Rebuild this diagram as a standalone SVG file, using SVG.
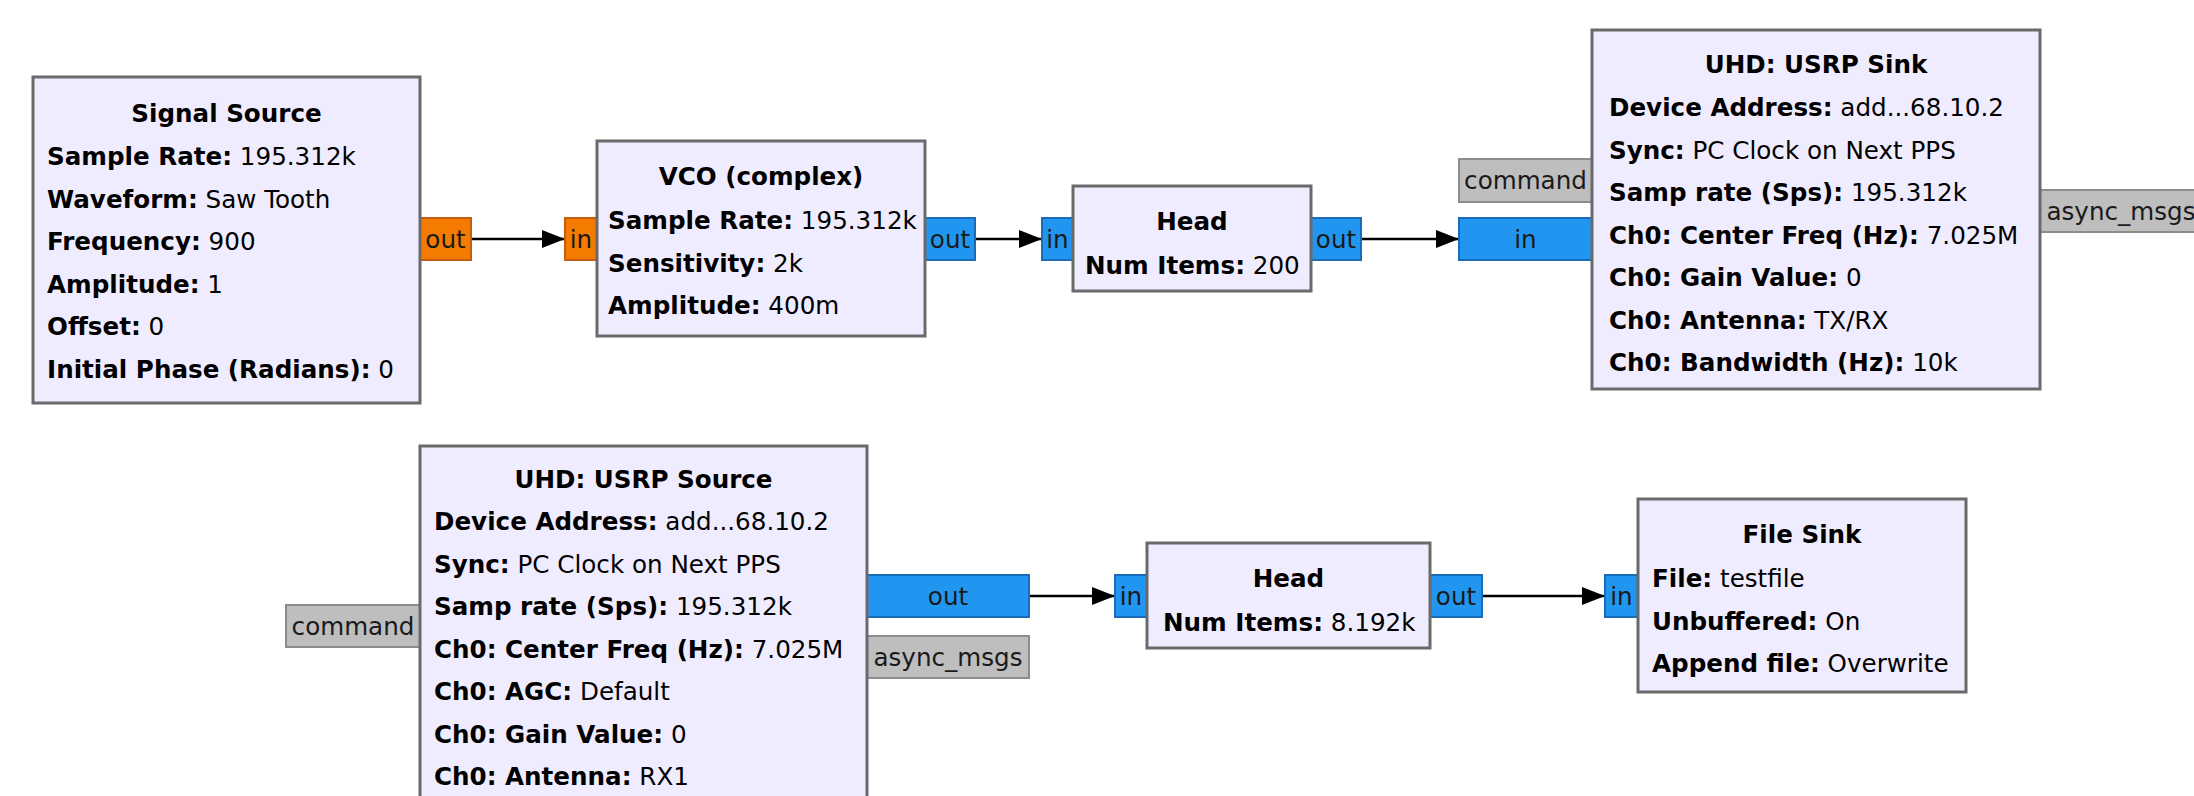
<svg xmlns="http://www.w3.org/2000/svg" width="2194" height="796" viewBox="0 0 2194 796">
<defs>
<style>
.box{fill:#F0ECFF;stroke:#6A6A6A;stroke-width:3}
.t{font-family:"DejaVu Sans","Liberation Sans",sans-serif;font-size:24.6px;fill:#000}
.title{font-weight:bold;text-anchor:middle}
.k{font-weight:bold}
.pt{font-family:"DejaVu Sans","Liberation Sans",sans-serif;font-size:24.6px;fill:#1a1a1a;text-anchor:middle}
.orange{fill:#F57A00;stroke:#C65D10;stroke-width:2}
.blue{fill:#2196F0;stroke:#1A6BB8;stroke-width:2}
.gray{fill:#BEBEBE;stroke:#8C8C8C;stroke-width:2}
.conn{stroke:#000;stroke-width:2.6;fill:none;marker-end:url(#arr)}
</style>
<marker id="arr" markerUnits="userSpaceOnUse" markerWidth="24" markerHeight="20" viewBox="0 0 24 20" refX="23" refY="10" orient="auto">
<path d="M0,1 L23,10 L0,19 z" fill="#000"/>
</marker>
</defs>
<rect width="2194" height="796" fill="#FFFFFF"/>

<g id="connectors">
<line class="conn" x1="471" y1="239" x2="565" y2="239"/>
<line class="conn" x1="975" y1="239" x2="1042" y2="239"/>
<line class="conn" x1="1361" y1="239" x2="1459" y2="239"/>
<line class="conn" x1="1029" y1="596" x2="1115" y2="596"/>
<line class="conn" x1="1482" y1="596" x2="1605" y2="596"/>
</g>

<g id="signal_source">
<rect class="orange" x="420" y="218" width="51" height="42"/>
<text class="pt" x="445.5" y="248">out</text>
<rect class="box" x="33" y="77" width="387" height="326"/>
<text class="t title" x="226.5" y="122">Signal Source</text>
<text class="t" x="47" y="165"><tspan class="k">Sample Rate:</tspan> 195.312k</text>
<text class="t" x="47" y="207.5"><tspan class="k">Waveform:</tspan> Saw Tooth</text>
<text class="t" x="47" y="250"><tspan class="k">Frequency:</tspan> 900</text>
<text class="t" x="47" y="292.5"><tspan class="k">Amplitude:</tspan> 1</text>
<text class="t" x="47" y="335"><tspan class="k">Offset:</tspan> 0</text>
<text class="t" x="47" y="377.5"><tspan class="k">Initial Phase (Radians):</tspan> 0</text>
</g>

<g id="vco">
<rect class="orange" x="565" y="218" width="32" height="42"/>
<text class="pt" x="581" y="248">in</text>
<rect class="blue" x="925" y="218" width="50" height="42"/>
<text class="pt" x="950" y="248">out</text>
<rect class="box" x="597" y="141" width="328" height="195"/>
<text class="t title" x="761" y="185">VCO (complex)</text>
<text class="t" x="608" y="229"><tspan class="k">Sample Rate:</tspan> 195.312k</text>
<text class="t" x="608" y="271.5"><tspan class="k">Sensitivity:</tspan> 2k</text>
<text class="t" x="608" y="314"><tspan class="k">Amplitude:</tspan> 400m</text>
</g>

<g id="head1">
<rect class="blue" x="1042" y="218" width="31" height="42"/>
<text class="pt" x="1057.5" y="248">in</text>
<rect class="blue" x="1311" y="218" width="50" height="42"/>
<text class="pt" x="1336" y="248">out</text>
<rect class="box" x="1073" y="186" width="238" height="105"/>
<text class="t title" x="1192" y="230">Head</text>
<text class="t" x="1085" y="274"><tspan class="k">Num Items:</tspan> 200</text>
</g>

<g id="usrp_sink">
<rect class="gray" x="1459" y="159" width="133" height="43"/>
<text class="pt" x="1525.5" y="189">command</text>
<rect class="blue" x="1459" y="218" width="133" height="42"/>
<text class="pt" x="1525.5" y="248">in</text>
<rect class="gray" x="2040" y="190" width="162" height="42"/>
<text class="pt" x="2121" y="220">async_msgs</text>
<rect class="box" x="1592" y="30" width="448" height="359"/>
<text class="t title" x="1816" y="73">UHD: USRP Sink</text>
<text class="t" x="1609" y="116"><tspan class="k">Device Address:</tspan> add...68.10.2</text>
<text class="t" x="1609" y="158.5"><tspan class="k">Sync:</tspan> PC Clock on Next PPS</text>
<text class="t" x="1609" y="201"><tspan class="k">Samp rate (Sps):</tspan> 195.312k</text>
<text class="t" x="1609" y="243.5"><tspan class="k">Ch0: Center Freq (Hz):</tspan> 7.025M</text>
<text class="t" x="1609" y="286"><tspan class="k">Ch0: Gain Value:</tspan> 0</text>
<text class="t" x="1609" y="328.5"><tspan class="k">Ch0: Antenna:</tspan> TX/RX</text>
<text class="t" x="1609" y="371"><tspan class="k">Ch0: Bandwidth (Hz):</tspan> 10k</text>
</g>

<g id="usrp_source">
<rect class="gray" x="286" y="605" width="134" height="42"/>
<text class="pt" x="353" y="635">command</text>
<rect class="blue" x="867" y="575" width="162" height="42"/>
<text class="pt" x="948" y="605">out</text>
<rect class="gray" x="867" y="636" width="162" height="42"/>
<text class="pt" x="948" y="666">async_msgs</text>
<rect class="box" x="420" y="446" width="447" height="400"/>
<text class="t title" x="643.5" y="488">UHD: USRP Source</text>
<text class="t" x="434" y="530"><tspan class="k">Device Address:</tspan> add...68.10.2</text>
<text class="t" x="434" y="572.5"><tspan class="k">Sync:</tspan> PC Clock on Next PPS</text>
<text class="t" x="434" y="615"><tspan class="k">Samp rate (Sps):</tspan> 195.312k</text>
<text class="t" x="434" y="657.5"><tspan class="k">Ch0: Center Freq (Hz):</tspan> 7.025M</text>
<text class="t" x="434" y="700"><tspan class="k">Ch0: AGC:</tspan> Default</text>
<text class="t" x="434" y="742.5"><tspan class="k">Ch0: Gain Value:</tspan> 0</text>
<text class="t" x="434" y="785"><tspan class="k">Ch0: Antenna:</tspan> RX1</text>
</g>

<g id="head2">
<rect class="blue" x="1115" y="575" width="32" height="42"/>
<text class="pt" x="1131" y="605">in</text>
<rect class="blue" x="1430" y="575" width="52" height="42"/>
<text class="pt" x="1456" y="605">out</text>
<rect class="box" x="1147" y="543" width="283" height="105"/>
<text class="t title" x="1288.5" y="587">Head</text>
<text class="t" x="1163" y="631"><tspan class="k">Num Items:</tspan> 8.192k</text>
</g>

<g id="file_sink">
<rect class="blue" x="1605" y="575" width="33" height="42"/>
<text class="pt" x="1621.5" y="605">in</text>
<rect class="box" x="1638" y="499" width="328" height="193"/>
<text class="t title" x="1802" y="543">File Sink</text>
<text class="t" x="1652" y="587"><tspan class="k">File:</tspan> testfile</text>
<text class="t" x="1652" y="629.5"><tspan class="k">Unbuffered:</tspan> On</text>
<text class="t" x="1652" y="672"><tspan class="k">Append file:</tspan> Overwrite</text>
</g>
</svg>
